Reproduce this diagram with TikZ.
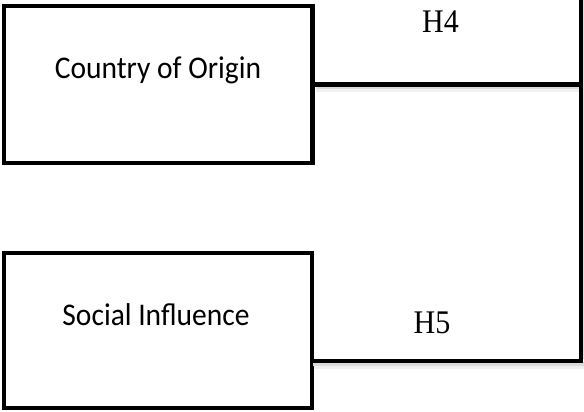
\documentclass[tikz,border=0pt]{standalone}
\usepackage{fontspec}
\setmainfont{Carlito}
\newfontfamily\hfont{Liberation Serif}
\begin{document}
\begin{tikzpicture}[x=1pt,y=-1pt,
  box/.style={draw=black, line width=4.5pt, rectangle, inner sep=0pt, line join=miter},
  lbl/.style={font=\fontsize{29.5}{34}\selectfont, inner sep=0pt, yscale=1.07, transform shape},
  hlbl/.style={font=\hfont\fontsize{30}{36}\selectfont, inner sep=0pt, yscale=1.1, transform shape},
  shadA/.style={draw=black!14, line width=4pt, transform canvas={shift={(1pt,-3pt)}}},
  shadB/.style={draw=black!6, line width=4pt, transform canvas={shift={(1.5pt,-6pt)}}},
  conn/.style={draw=black, line width=4.6pt, line join=miter, preaction={shadB}, preaction={shadA}},
  vconn/.style={draw=black, line width=3.8pt, preaction={draw=black!12, line width=3pt, transform canvas={shift={(1.8pt,0pt)}}}}]
\useasboundingbox (0,0) rectangle (584,412);
\fill[white] (0,0) rectangle (584,412);
\node[box, minimum width=308.5pt, minimum height=156.5pt] (b1) at (158.25,84.5) {};
\node[box, minimum width=308pt, minimum height=155pt] (b2) at (158,330.5) {};
\node[lbl] (t1) at (158,70) {Country of Origin};
\node[lbl] (t2) at (156,315) {Social Influence};
\coordinate (vtop) at (580.7,-3);
\coordinate (corner) at (580.7,361);
\coordinate (b2out) at (312,361);
\draw[conn] (b1.east) -- (b1.east -| corner);
\draw[conn] (b2out) -- ([xshift=1.9pt]corner);
\draw[vconn] (vtop) -- ([yshift=2.3pt]corner);
\node[hlbl] (h4) at (440.5,21.5) {H4};
\node[hlbl] (h5) at (432,323) {H5};
\end{tikzpicture}
\end{document}
